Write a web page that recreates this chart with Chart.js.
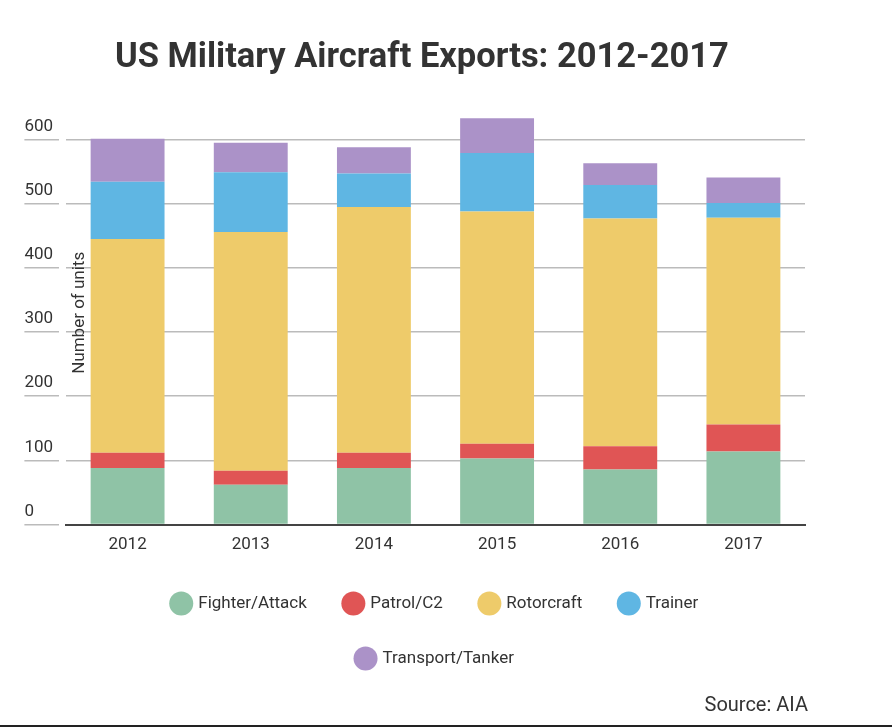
<!DOCTYPE html>
<html><head><meta charset="utf-8">
<script src="https://cdn.jsdelivr.net/npm/chart.js@4.4.1/dist/chart.umd.min.js"></script>
<style>
html,body{margin:0;background:#fff;font-family:Roboto,sans-serif}
#wrap{position:relative;width:892px;height:727px}
#title{position:absolute;left:115px;top:35px;font-size:34.5px;font-weight:bold;color:#333}
#src{position:absolute;right:84px;top:692px;font-size:20px;color:#333}
#bl{position:absolute;left:0;top:725px;width:892px;height:2px;background:#222}
</style></head><body>
<div id="wrap">
<canvas id="c" width="892" height="727"></canvas>
<div id="title">US Military Aircraft Exports: 2012-2017</div>
<div id="src">Source: AIA</div>
<div id="bl"></div>
</div>
<script>
const years = ["2012", "2013", "2014", "2015", "2016", "2017"];
const fighter = [88, 62, 88, 103, 86, 114];
const patrol = [24, 22, 24, 23, 36, 42];
const rotor = [333, 372, 383, 362, 355, 322];
const trainer = [89, 93, 52, 91, 52, 23];
const transport = [67, 46, 41, 54, 34, 40];

const C = { fighter: "#8fc3a6", patrol: "#e05555", rotor: "#eecb6a", trainer: "#5fb6e3", transport: "#ab92c8" };
const ds = (label, data, color) => ({ label, data, backgroundColor: color, borderWidth: 0,
  barPercentage: 0.6, categoryPercentage: 1 });

new Chart(document.getElementById("c"), {
  type: "bar",
  data: {
    labels: years,
    datasets: [
      ds("Fighter/Attack", fighter, C.fighter),
      ds("Patrol/C2", patrol, C.patrol),
      ds("Rotorcraft", rotor, C.rotor),
      ds("Trainer", trainer, C.trainer),
      ds("Transport/Tanker", transport, C.transport),
    ],
  },
  options: {
    responsive: false, animation: false,
    layout: { padding: { left: 66, right: 87, top: 101, bottom: 50 } },
    plugins: {
      legend: { position: "bottom", labels: { usePointStyle: true, pointStyle: "circle", boxWidth: 24, boxHeight: 24,
        padding: 38, color: "#333", font: { size: 17, family: "Roboto" } } },
      tooltip: { enabled: false },
    },
    scales: {
      x: { stacked: true, grid: { display: false }, border: { color: "#444", width: 2 },
        ticks: { color: "#333", font: { size: 17, family: "Roboto" }, padding: 2 } },
      y: { stacked: true, min: 0, max: 660,
        afterBuildTicks: (a) => { a.ticks = a.ticks.filter((t) => t.value % 100 === 0); },
        ticks: { stepSize: 100, mirror: true, labelOffset: -13, padding: -35, color: "#333",
          font: { size: 17, family: "Roboto" } },
        grid: { color: "#bbb", lineWidth: 1.5, drawTicks: true, tickLength: 35, tickColor: "#bbb" },
        border: { display: false },
        title: { display: true, text: "Number of units", color: "#333", font: { size: 17, family: "Roboto" } } },
    },
  },
});
</script>
</body></html>
